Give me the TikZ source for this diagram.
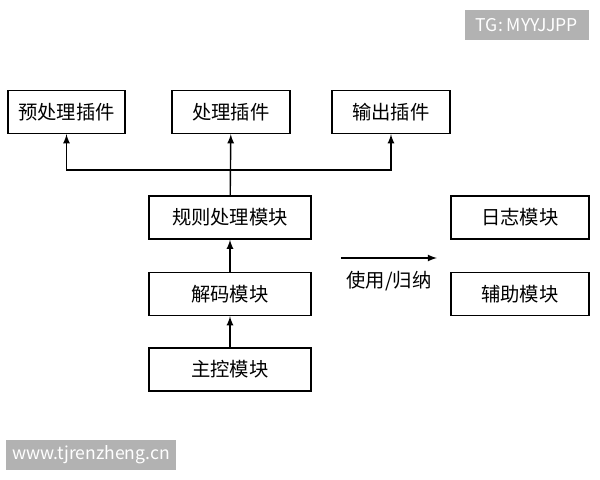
\documentclass[tikz,border=0pt]{standalone}
\usepackage{fontspec}
\setmainfont{Noto Sans CJK SC}
\usepackage{xcolor}
\usetikzlibrary{positioning}

\begin{document}
\begin{tikzpicture}[x=0.02cm,y=-0.02cm,
    box/.style={draw,thick,minimum height=0.86cm,font=\fontsize{11}{13}\selectfont},
    link/.style={thick,-latex},
    wmark/.style={fill=gray!60,text=white,font=\fontsize{10}{12}\selectfont}]
            \useasboundingbox (0,0) rectangle (600,480);
            % Plugins
            \node[box,minimum width=2.34cm] (pre) at (66.5,112) {预处理插件};
            \node[box,minimum width=2.36cm] (proc) at (231,112) {处理插件};
            \node[box,minimum width=2.36cm] (out) at (391,112) {输出插件};
            
            % Modules
            \node[box,minimum width=3.24cm] (rule) at (230,217.5) {规则处理模块};
            \node[box,minimum width=3.24cm] (decode) at (230,294) {解码模块};
            \node[box,minimum width=3.24cm] (main) at (230,369.5) {主控模块};
            \node[box,minimum width=2.76cm] (log) at (520,217.5) {日志模块};
            \node[box,minimum width=2.76cm] (aux) at (520,294) {辅助模块};
            
            % Flow
            \draw[link] (main) -- (decode);
            \draw[link] (decode) -- (rule);
            \draw[link] (rule) -- (proc);
            \coordinate (split) at (230,170);
            \draw[link] (split) -| (pre);
            \draw[link] (split) -| (out);
            
            % Usage
            \coordinate (use1) at (341,258);
            \coordinate (use2) at (437,258);
            \draw[link] (use1) -- (use2) node[midway,below=4pt,font=\fontsize{11}{13}\selectfont] {使用/归纳};
            
            % Watermarks
            \node[wmark,minimum width=2.5cm,minimum height=0.6cm] (tg) at (527,25) {TG: MYYJJPP};
            \node[wmark,minimum width=3.24cm,minimum height=0.6cm] (web) at (91,455) {www.tjrenzheng.cn};
        \end{tikzpicture}
\end{document}
